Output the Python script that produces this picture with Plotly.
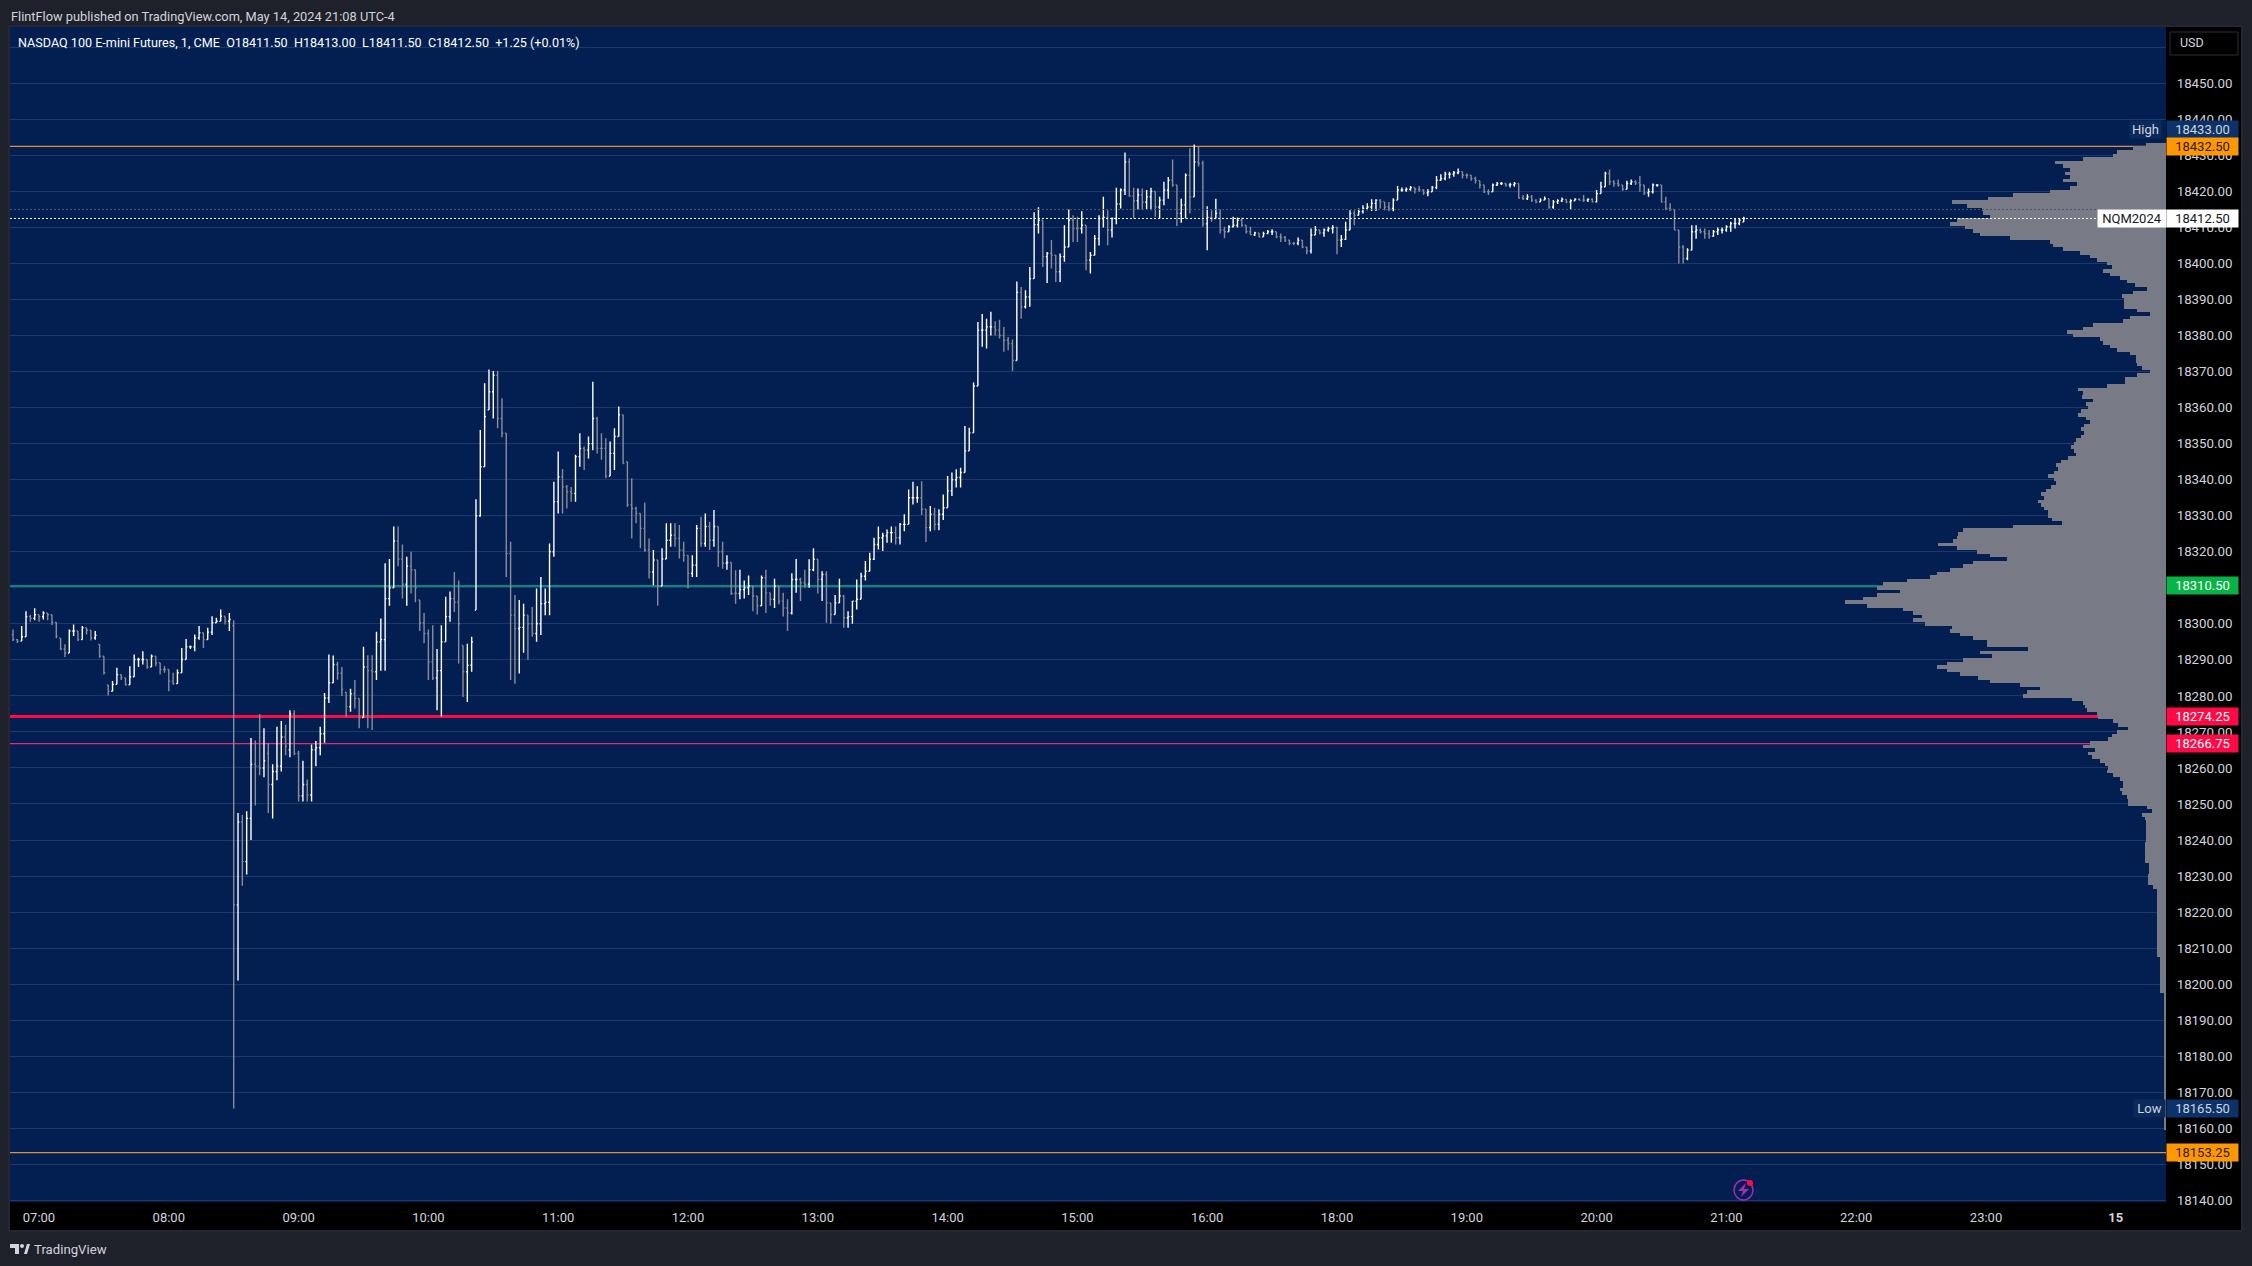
import plotly.graph_objects as go

BASE_PRICE = 18000

# ---- axes ----
price_ticks = list(range(18140, 18470, 10))
time_ticks = [0, 60, 120, 180, 240, 300, 360, 420, 480, 540, 600, 660, 720, 780, 840, 900, 960]
time_labels = ["07:00", "08:00", "09:00", "10:00", "11:00", "12:00", "13:00", "14:00", "15:00",
               "16:00", "18:00", "19:00", "20:00", "21:00", "22:00", "23:00", "<b>15</b>"]

# ---- OHLC, points above BASE_PRICE, two-minute bars ----
bars_premarket_start = -12
bars_premarket = [
 (297,298.4,295.2,295.6),(295.6,295.8,294.7,295.2),(295.2,299.4,295.2,296.4),(296.4,303.5,296.4,302),
 (302,302.5,300.6,301.5),(301.5,304.3,301,302.5),(302.5,302.5,300.6,302),(302,303.5,301.2,303),
 (303,303,301,302.5),(302.5,302.5,299.7,300.4),(300.4,300.4,296,296.5),(296,296,292.7,293),
 (293,294.3,290.8,291.9),(291.9,298.4,291.9,298),(298,299.8,296.6,298),(298,298,295.2,295.6),
 (295.6,299.4,295.6,298.9),(298.9,298.9,297,298.2),(298.2,298.2,295.4,296.1),(296.1,298,295.6,296.8),
 (294.3,294.3,290.6,291),(291,291,285.9,286.4),(283,283,280.1,281.3),(281.3,284.1,281.3,283.2),
 (283.2,287.8,283.2,285.9),(285.9,285.9,284.4,285),(285,285,282.9,283.1),(283.1,288.2,283.1,285.3),
 (285.3,291.5,285.3,290.1),(290.1,290.6,288,290.1),(290.1,292.4,288.7,290.1),(290.1,290.1,287.5,288),
 (288,291.5,288,291),(291,291,288.2,289.2),(289.2,289.2,285.9,287.3),(287.3,288.2,286.4,287.3),
 (287.3,287.3,281.3,284.1),(284.1,286.4,283.1,283.4),(283.4,287.3,283.4,286.4),(286.4,293.3,286.4,290.1),
 (290.1,295.8,290.1,293.6),(293.6,294,293,293.6),(293.6,297,292.4,296.1),(296.1,299.4,295.6,297.5),
 (297.5,297.5,293.3,295.6),(295.6,298.9,295.6,297.7),(297.7,302.1,296.9,300.3),(300.3,301.7,300.3,300.7),
 (300.7,304,300.7,302.1),(302.1,302.1,299.8,300.7),(300.7,303,298,301.2),
]
bars_open_start = 90
bars_open = [
 (299.5,301,165.5,222),(222,247.5,201,245),(245,247,227.3,234),(234,248,230.4,246),(246,268.3,240,261),
 (261,267.6,249.6,260.5),(260.5,275,258,260),(260,271,257.4,262),(264,267,247.5,255.4),(255.4,261,246,259),
 (259,271.4,256.6,260.5),(260.5,273,259,268.6),(268.6,272,263.5,266),(265,276,263,275),(275,276,263.5,264),
 (264,264.8,250.7,252.3),(252.3,262,250.7,255.4),(255.4,256.8,250.7,252.5),(252.5,266.5,250.7,265),
 (265,267.5,260.5,265.6),(265.6,271.4,263.5,269.5),(269.5,280.8,267,279.4),(279.4,291.5,278,283.6),
]
bars_morning_start = 136
bars_morning = [
 (283.6,291.2,283.6,288.7),(288.7,289.5,284.5,286.3),(286.3,288,280,281.8),(281,281,274.2,277),
 (277,282,275.6,280.6),(280.6,284.4,276.5,279.3),(279.3,279.3,271,274),(274,293.6,274,288),
 (288,291.3,271,287),(287,291.3,270.5,286.7),(286.7,297.8,284.4,295),(295,301.5,287,295.6),
 (295.6,316.8,287,307),(307,318,305,310),(310,327,310,323),(323,327,316,318),(318,322,307,311),
 (311,318.6,305,316),(316,320,308.4,315),(315,315,306,310),(306.6,306.6,298,300.3),(300.3,303,294.6,297.3),
 (297.3,298.4,284.4,289.4),(289.4,299.6,284.4,285),(285,293,276,287),(287,299.6,274.3,295),
 (295,307.5,295,302),(302,309,300.6,307),(307,314.4,303.3,306),(306,312,289,300),(294,294,279.7,286.7),
 (286.7,294.5,278.3,288.5),(288.5,296.4,286.7,295),(303.8,334.6,303.8,330),(330,353.8,329.7,343.6),
 (343.6,366.8,343.6,357.5),(359.4,370.6,359.4,364.4),(364.4,370.2,357,369),(369,370.2,354.3,357),
 (357,362.6,351.8,352.9),(352.9,352.9,313,319.5),(319.5,322.8,284.4,302.4),(302.4,308,283.4,298.7),
 (298.7,306.6,286.2,299),(299,305.6,292,302.4),(302.4,302.4,290,300),(300,304.7,296.4,297.3),
 (297.3,309.8,295,300),(300,313,296.9,305.6),(305.6,309.8,302.4,306),(306,322.3,302.4,320),
 (320,339.4,318.6,333.9),(333.9,347.8,330.6,340.8),
]
bars_midday_start = 242
bars_midday = [
 (340.8,343,330.6,338),(338,338.5,332,336.7),(336.7,338,333.9,336.2),(336.2,346.9,333.9,346.4),
 (346.4,352.9,343.6,348.7),(348.7,349.2,342.7,348.2),(348.2,352,345.9,350),(350,367.2,348.2,357),
 (357,357.5,347.3,348.7),(348.7,352.9,345.5,348.7),(348.7,351.5,340.4,341),(341,350.6,341,347.3),
 (347.3,354.3,342.7,352),(352,360.3,352,358),(358,358,344.5,344.5),(345,345,332.5,333),
 (333,340.4,323.7,332),(332,332.5,327.9,330.6),(330.6,330.6,321,326.5),(326.5,333.7,320,320.5),
 (320.5,323.7,312.6,314.4),(314.4,320.5,310.7,317.7),(317.7,317.7,305,310.5),(310.5,321,310.5,318),
 (318,327.9,318,323.2),(323.2,327.9,321.4,324.6),(324.6,327.9,321.4,323.7),(323.7,327.4,318.1,320.5),
 (320.5,322.8,317.2,319),(319,319,309.8,314),(314,319,313,316.3),(316.3,327.4,313,326.5),
 (326.5,329.7,321.4,322.3),(322.3,330.6,321.4,327),(327,328.3,320.5,323.2),(323.2,331.6,321.4,327),
 (327,327,315.8,320),(320,322.8,315.3,316.8),(316.8,319,315,317),(317,317,308,308.4),
 (308.4,314.9,305.6,308.4),(308.4,315,306.8,309.5),(309.5,312,307,310),(310,313.4,308,310.5),
 (310.5,310.5,303.5,307.7),(307.7,307.7,302.6,305),(305,313.4,305,312.8),(312.8,315,303,308.6),
 (308.6,308.6,305,306.8),(306.8,312.5,304.4,310.5),(310.5,310.5,305.4,306.3),(306.3,308.6,302,304.4),
 (304.4,306.8,298,303),(303,314,302.6,312.3),(312.3,318,308.6,312.3),(312.3,312.8,306.3,311.4),
 (311.4,315,310,311),(311,317.9,310,315),(315,321,314.6,317.9),(317.9,317.9,308.4,312.3),
 (312.3,314.6,306.3,313.7),(313.7,314.6,300.3,305.8),(305.8,305.8,300,302.6),(302.6,308,302.6,305.8),
 (305.8,312.5,305.8,307.7),(307.7,308,298.9,301.7),(301.7,303.5,298.9,302),(302,306.3,300,306.3),
 (306.3,312.3,304,306.8),(306.8,314.2,306.8,313.2),(313.2,317.4,312,314.6),(314.6,319.7,314.6,317.9),
 (317.9,323.9,317.7,322),(322,327,320.6,323.9),(323.9,325.3,320.2,324.4),(324.4,326.2,322.5,325.3),
 (325.3,327,322.5,325.3),(325.3,327,322,323.9),(323.9,328,322,327.6),(327.6,330.4,325.7,327.6),
 (327.6,337.3,327.6,335),(335,339.4,333.1,335),(335,338.2,333.6,335),(335,339.6,330.2,331.8),
 (331.8,331.8,322.7,326.7),(326.7,332.7,325.7,330.4),(330.4,332.2,326,327.6),(327.6,331.8,326,330.4),
 (330.4,335.9,328.8,332.2),(332.2,341,332.2,336.9),(336.9,342,335.5,340),(340,342.9,337.8,340.6),
 (340.6,343.3,337.8,342),(342,354.9,342,348),(348,354.4,348,353),(353,367,353,366),(366,383.8,366,381.5),
]
bars_afternoon_start = 436
bars_afternoon = [
 (381.5,386,376.9,381.5),(381.5,384.7,376.4,382.4),(382.4,386.6,380,382.4),(382.4,384,380,381.5),
 (381.5,384.4,379.2,380),(380,382.4,375.5,378.7),(378.7,379.6,375.9,377.8),(377.8,378.9,370.2,373.1),
 (373.1,395,373.1,392),(392,393.5,384.7,388),(388,392.6,387.5,390.7),(390.7,399,388,395.8),
 (395.8,414.2,395.8,410.8),(410.8,415.6,408.3,412),(412,412,399,401.9),(401.9,403.2,394.6,402.8),
 (402.8,406.5,398.6,402.3),(402.3,402.3,394.9,397.7),(397.7,402.8,394.9,401.9),(401.9,410.6,400.5,404.6),
 (404.6,415,404.6,412),(412,413.4,406,409.7),(409.7,413,406,409.7),(409.7,414.5,408.3,410.6),
 (410.6,410.6,398.1,400.9),(400.9,403.2,397.2,402.3),(402.3,407.9,402.3,406.9),(406.9,413.4,405,412.5),
 (412.5,418.5,410,412.8),(412.8,414.8,405.1,409.3),(409.3,412.8,407.2,412.5),(412.5,421,410.9,416.5),
 (416.5,420.8,415.3,420.4),(420.4,430.8,419,428.2),(428.2,429.2,418.5,418.7),(418.7,421,412.5,417.4),
 (417.4,420.8,415,419),(419,420.8,415,417),(417,420.4,415,418.5),(418.5,421,414.8,420),
 (420,420,413,415.7),(415.7,418.5,412.5,417.6),(417.6,422.7,416.2,420.4),(420.4,424,418,423.1),
 (423.1,428.9,421.3,421.8),(421.8,421.8,410.4,413.9),(413.9,418,411.3,416.2),(416.2,425,412.5,424.5),
 (424.5,432,413.9,418.5),(418.5,433,418.5,428.2),(428.2,432.4,426.9,427.8),(427.8,428.5,410.2,411),
 (411,415.9,403.7,412.8),(412.8,414.8,411.6,412.5),(412.5,418,412.5,413.9),(413.9,415,408.3,409.3),
 (409.3,410.2,407,408.8),(408.8,410.6,408.8,410.2),(410.2,413,410,410.6),(410.6,412.8,410,412),
]
bars_evening_start = 556
bars_evening = [
 (412,412.8,410.2,410.6),(410.6,410.6,408.3,408.8),(408.8,410.2,407.9,408),(408,408.8,407.6,408.5),
 (408.5,408.5,407.2,407.4),(407.4,408.8,407.4,408.3),(408.3,409.3,408.1,408.8),(408.8,409.5,407.9,408.8),
 (408.8,408.8,407,407.4),(407.4,408.3,406,407.2),(407.2,407.6,406,406.5),(406.5,406.5,405.1,405.6),
 (405.6,406,405.1,405.6),(405.6,407.2,405.1,406.5),(406.5,406.5,404.2,404.6),(404.6,404.6,402.6,403.5),
 (403.5,409.7,402.8,407.9),(407.9,410.4,407.9,409.3),(409.3,409.3,408.1,408.5),(408.5,409.7,407.4,409.3),
 (409.3,410.2,408.8,409.7),(409.7,410.6,408.3,410),(410,410.2,402.6,406.5),(406.5,407.9,404.6,406.7),
 (406.7,411.6,406.5,409.3),(409.3,414.8,409.3,413.9),(413.9,414.8,410.6,413.4),(413.4,415.3,413.4,414.4),
 (414.4,416.2,413.9,415.3),(415.3,416.7,414.8,415.7),(415.7,417.8,414.6,416.7),(416.7,417.8,414.6,417.6),
 (417.6,417.8,415.3,417.1),(417.1,417.1,414.8,415.7),(415.7,417.1,414.5,415.3),(415.3,418.1,414.5,417.6),
 (417.6,421.5,417.6,420.4),(420.4,421.1,419.9,420.4),(420.4,421.1,419.9,420.6),(420.6,421.5,420.2,421.1),
 (421.1,421.1,419.4,420.6),(420.6,421.5,419.9,420.4),(420.4,420.6,419,419.6),(419.6,420.6,418.7,419.9),
 (419.9,421.5,419.9,421.1),(421.1,424.3,420.6,423.1),(423.1,424.8,423,423.6),(423.6,425.5,423.1,424.8),
 (424.8,425.5,423.6,424.8),(424.8,425.7,424.1,425.2),(425.2,426.4,424.8,425.5),(425.5,425.5,423.6,424.5),
 (424.5,425,423.6,424.5),(424.5,424.5,423,423.6),(423.6,424.1,422.2,423),(423,423,420.8,421.8),
 (421.8,421.8,419.6,419.9),(419.9,420.6,419,419.9),(419.9,422.2,419.9,421.8),(421.8,422.6,421.5,422.2),
 (422.2,422.6,421.8,422.2),(422.2,422.4,421.3,421.8),(421.8,422.4,421.1,421.9),(421.9,422.6,421.3,422.2),
 (422.2,422.2,418,418.2),(418.2,419,417.6,418),(418,419.2,417.6,418.5),(418.5,419,417.1,417.6),
 (417.6,417.8,416.7,417.1),(417.1,418.1,417.1,417.6),(417.6,418.6,417.6,418),(418,418,415.2,415.7),
 (415.7,417.6,415.2,417.1),(417.1,417.8,416.5,417.4),(417.4,418.3,417.1,417.8),(417.8,417.8,416.7,417.1),
 (417.1,417.8,415,417.4),(417.4,418.1,417.4,417.8),(417.8,418.1,417.4,417.6),(417.6,419,417.1,417.6),
 (417.6,418.1,417.1,417.8),(417.8,418.1,416.9,417.1),(417.1,420.4,416.9,419.4),(419.4,422.7,419.4,421.3),
 (421.3,425.5,421.3,425),(425,426.1,421.8,422.7),(422.7,423.1,421.3,422.2),(422.2,423.3,421.3,421.8),
 (421.8,421.8,420.2,420.6),(420.6,423,420.6,422.2),(422.2,423.3,421.8,422.7),(422.7,423.1,421.8,422.4),
 (422.4,424.3,419.9,421.8),(421.8,421.8,419,419.6),(419.6,420.8,418.5,419.9),(419.9,422.2,419.4,421.8),
 (421.8,422,421.3,421.8),(421.8,421.8,416.9,417.1),(417.1,418.5,414.8,415.3),(415.3,416.7,414.6,415),
 (415,415,409.3,409.3),(409.3,409.3,400,404.6),(404.6,405.1,400,401.4),(401.4,404.2,400.9,403.7),
 (403.7,410.6,403.7,408.8),(408.8,410.6,406.9,409.3),(409.3,409.7,408.3,408.8),(408.8,409.7,406.9,408.3),
 (408.3,409.3,406.9,407.6),(407.6,409.3,407.4,408.8),(408.8,410,407.9,409.3),(409.3,410,408.3,409.3),
 (409.3,410.6,408.8,410.2),(410.2,411.6,408.8,411.1),(411.1,412.5,409.7,411.1),(411.1,412.5,410.6,412),
 (411.5,413,411.5,412.5),
]

# ---- volume profile: one row per point, top row first ----
vp_top_price = 18433
vp_volume = [
 20,33,49,53,83,111,103,96,101,96,103,89,96,116,153,178,214,199,184,183,176,209,216,201,193,186,156,116,113,103,
 86,76,69,59,54,63,56,46,39,31,19,33,44,42,42,42,29,16,36,43,73,83,99,93,66,63,56,49,36,30,
 30,29,24,16,29,41,41,59,88,83,84,73,80,78,85,88,80,76,82,85,82,85,90,92,95,92,90,98,105,110,
 108,112,118,112,110,115,120,125,122,128,125,122,118,118,114,104,153,203,208,209,213,228,209,189,176,159,193,203,216,229,
 236,259,283,289,266,289,303,321,299,263,253,244,253,241,214,216,206,193,179,179,138,186,174,203,219,229,219,206,188,176,
 146,126,139,143,94,83,81,79,69,68,53,48,38,49,54,58,76,83,71,78,74,66,61,58,59,53,46,43,43,46,
 44,39,38,38,19,14,24,21,20,20,20,20,20,20,21,21,21,21,21,21,17,17,17,18,18,18,13,9,9,9,
 9,9,9,9,9,9,9,9,9,9,9,9,9,9,9,9,6,6,6,6,6,6,6,6,6,6,1.7,1.7,1.7,1.7,
 1.7,1.7,1.7,1.7,1.7,1.7,1.7,1.7,1.7,1.7,1.7,1.7,1.7,1.7,1.7,1.7,1.7,1.7,1.7,1.7,1.7,1.7,1.7,1.7,1.7,1.7,
 1.7,1.7,1.7,1.7,1.7,1.7,1.7,1.7,
]

# ---- price levels ----
level_values = [18432.50, 18153.25, 18310.50, 18274.25, 18266.75]
last_price = 18412.50
prev_price = 18415.00
session_high = 18433.00
session_low = 18165.50

# ---- page geometry (pixels) ----
W, H = 2252, 1266
L, R, T, B = 10, 2166, 27, 1202
BG_FRAME = "#1e212a"
BG_PLOT = "#031e50"
GRID = "#1d3869"
TEXT = "#d1d4dc"
GRAY = "#787b86"
FONT = "Roboto, Arial, sans-serif"


def px(v):
    return (v - L) / (R - L)


def py(v):
    return (B - v) / (B - T)


blocks = [(bars_premarket_start, bars_premarket), (bars_open_start, bars_open),
          (bars_morning_start, bars_morning), (bars_midday_start, bars_midday),
          (bars_afternoon_start, bars_afternoon), (bars_evening_start, bars_evening)]
xs, o, h, l, c = [], [], [], [], []
for start, rows in blocks:
    for i, (a, b, d, e) in enumerate(rows):
        xs.append(start + 2 * i)
        o.append(BASE_PRICE + a)
        h.append(BASE_PRICE + b)
        l.append(BASE_PRICE + d)
        c.append(BASE_PRICE + e)

vp_prices = [vp_top_price - i for i in range(len(vp_volume))]

fig = go.Figure()
fig.add_trace(go.Bar(y=vp_prices, x=vp_volume, orientation="h", xaxis="x2", width=1,
                     marker=dict(color=GRAY, line=dict(width=0)), hoverinfo="skip", showlegend=False))
fig.add_trace(go.Ohlc(x=xs, open=o, high=h, low=l, close=c, tickwidth=0.3, line=dict(width=1.4),
                      increasing=dict(line=dict(color="#ffffff", width=1.4)),
                      decreasing=dict(line=dict(color="#8a8d98", width=1.4)),
                      hoverinfo="skip", showlegend=False))

shapes = []
# axis bands and frame
shapes.append(dict(type="rect", xref="paper", yref="paper", x0=px(R), x1=px(2241), y0=py(T), y1=py(1230),
                   fillcolor="#000000", line=dict(width=0), layer="below"))
shapes.append(dict(type="rect", xref="paper", yref="paper", x0=px(L), x1=px(R), y0=py(B), y1=py(1230),
                   fillcolor="#000000", line=dict(width=0), layer="below"))
shapes.append(dict(type="rect", xref="paper", yref="paper", x0=px(L - 1), x1=px(2242), y0=py(T - 1), y1=py(1231),
                   fillcolor="rgba(0,0,0,0)", line=dict(width=1, color="#2a2e39"), layer="below"))
# level lines, behind the profile
for value, colour, width in [(level_values[0], "#e08f3e", 1.3), (level_values[1], "#e08f3e", 1.3),
                             (level_values[2], "#0aa88e", 1.4), (level_values[3], "#ff0a45", 3),
                             (level_values[4], "#e32b74", 1.3)]:
    shapes.append(dict(type="line", xref="paper", x0=0, x1=1, yref="y", y0=value, y1=value,
                       line=dict(color=colour, width=width), layer="below"))
# dotted last-price lines, over the profile
shapes.append(dict(type="line", xref="paper", x0=0, x1=px(2097), yref="y", y0=last_price, y1=last_price,
                   line=dict(color="#ffffff", width=1, dash="2px,2px"), layer="above"))
shapes.append(dict(type="line", xref="paper", x0=0, x1=px(2097), yref="y", y0=prev_price, y1=prev_price,
                   line=dict(color="#4c566f", width=1, dash="2px,2px"), layer="above"))
# USD button
shapes.append(dict(type="rect", xref="paper", yref="paper", x0=px(2170), x1=px(2238), y0=py(32), y1=py(55),
                   fillcolor="#000000", line=dict(width=1, color="#2a2e39"), layer="above"))
# alert icon
shapes.append(dict(type="circle", xref="paper", yref="paper", x0=px(1734), x1=px(1753), y0=py(1180), y1=py(1200),
                   fillcolor="rgba(0,0,0,0)", line=dict(width=1.5, color="#a32fb5"), layer="above"))
bolt = [(1746, 1183), (1738, 1191), (1743, 1191), (1741, 1197), (1749, 1189), (1744, 1189)]
bolt_path = "M " + " L ".join(f"{px(a):.5f},{py(b):.5f}" for a, b in bolt) + " Z"
shapes.append(dict(type="path", xref="paper", yref="paper", path=bolt_path, fillcolor="#a32fb5",
                   line=dict(width=0), layer="above"))
shapes.append(dict(type="circle", xref="paper", yref="paper", x0=px(1747), x1=px(1753), y0=py(1180), y1=py(1186),
                   fillcolor="#ff0a45", line=dict(width=0), layer="above"))
# TradingView mark
logo_t = [(10, 1244), (19, 1244), (19, 1254), (15, 1254), (15, 1248), (10, 1248)]
logo_s = [(24, 1254), (27, 1244), (30, 1244), (27, 1254)]
for poly in (logo_t, logo_s):
    shapes.append(dict(type="path", xref="paper", yref="paper",
                       path="M " + " L ".join(f"{px(a):.5f},{py(b):.5f}" for a, b in poly) + " Z",
                       fillcolor=TEXT, line=dict(width=0), layer="above"))
shapes.append(dict(type="circle", xref="paper", yref="paper", x0=px(20), x1=px(24), y0=py(1244), y1=py(1248),
                   fillcolor=TEXT, line=dict(width=0), layer="above"))

annotations = []


def badge(text, y, bg, fg, yshift=0, x=R, width=71):
    annotations.append(dict(text=text, xref="paper", x=px(x), xanchor="left", yref="y", y=y, yanchor="middle",
                            yshift=yshift, width=width, height=17, align="center", valign="middle", bgcolor=bg,
                            borderpad=0, showarrow=False, font=dict(family=FONT, size=13, color=fg)))


for txt, y, bg, fg, shift, x, width in [
    ("18433.00", session_high, "#0c3369", TEXT, 15, R, 71),
    ("High", session_high, "#0a2a5c", TEXT, 15, 2129, 31),
    ("18432.50", level_values[0], "#ff9800", "#2a1c00", 0, R, 71),
    ("18412.50", last_price, "#ffffff", "#131722", 0, R, 71),
    ("NQM2024", last_price, "#ffffff", "#131722", 0, 2097, 68),
    ("18310.50", level_values[2], "#08b445", "#ffffff", 0, R, 71),
    ("18274.25", level_values[3], "#ff0a45", "#ffffff", 0, R, 71),
    ("18266.75", level_values[4], "#ff0a45", "#ffffff", 0, R, 71),
    ("18165.50", session_low, "#0c3369", TEXT, 0, R, 71),
    ("Low", session_low, "#0a2a5c", TEXT, 0, 2133, 31),
    ("18153.25", level_values[1], "#ff9800", "#2a1c00", 0, R, 71),
]:
    badge(txt, y, bg, fg, shift, x, width)


def label(text, x, y, size=12, colour=TEXT):
    annotations.append(dict(text=text, xref="paper", yref="paper", x=px(x), y=py(y), xanchor="left",
                            yanchor="middle", showarrow=False, borderpad=0,
                            font=dict(family=FONT, size=size, color=colour)))


label("FlintFlow published on TradingView.com, May 14, 2024 21:08 UTC-4", 10, 16, 12.8)
label("NASDAQ 100 E-mini Futures, 1, CME\u00a0\u00a0O18411.50\u00a0\u00a0H18413.00\u00a0\u00a0L18411.50"
      "\u00a0\u00a0C18412.50\u00a0\u00a0+1.25 (+0.01%)", 17, 43, 12.6, "#ffffff")
label("USD", 2179, 43, 12.5, TEXT)
label("TradingView", 33, 1249, 13.2, TEXT)

fig.update_layout(
    width=W, height=H, autosize=False,
    margin=dict(l=L, r=W - R, t=T, b=H - B, pad=0),
    paper_bgcolor=BG_FRAME, plot_bgcolor=BG_PLOT,
    showlegend=False, bargap=0, hovermode=False,
    font=dict(family=FONT, size=13, color=TEXT),
    shapes=shapes, annotations=annotations,
    xaxis=dict(range=[-13.4, 983.2], rangeslider=dict(visible=False), showgrid=False, zeroline=False,
               tickmode="array", tickvals=time_ticks, ticktext=time_labels, ticks="outside", ticklen=3,
               tickcolor="rgba(0,0,0,0)", tickfont=dict(family=FONT, size=13, color=TEXT), showline=False),
    xaxis2=dict(range=[R - L, 0], overlaying="x", side="top", visible=False),
    yaxis=dict(range=[18139.53, 18465.64], side="right", showgrid=True, gridcolor=GRID, gridwidth=1, zeroline=False,
               tickmode="array", tickvals=price_ticks,
               ticktext=[f"{v}.00" if v != 18460 else "" for v in price_ticks],
               ticks="outside", ticklen=7, tickcolor="rgba(0,0,0,0)",
               tickfont=dict(family=FONT, size=13.3, color=TEXT), showline=False),
)

fig.write_html("out.html", config={"displayModeBar": False},
               post_script="document.body.style.margin='0';document.body.style.overflow='hidden';")
